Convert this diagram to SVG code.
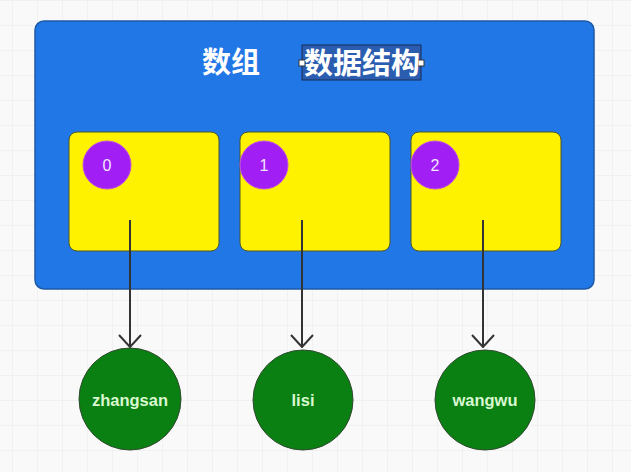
<svg xmlns="http://www.w3.org/2000/svg" width="631" height="472" viewBox="0 0 631 472">
<defs>
<pattern id="grid" x="12" y="0" width="25" height="25" patternUnits="userSpaceOnUse">
<path d="M0 0V25M0 0H25" fill="none" stroke="#e9e9e9" stroke-width="1"/>
</pattern>
<marker id="arr" viewBox="0 0 14 24" refX="13" refY="12" markerWidth="14" markerHeight="24" markerUnits="userSpaceOnUse" orient="auto">
<path d="M1 1L13 12L1 23" fill="none" stroke="#333" stroke-width="2"/>
</marker>
<style>
.box{fill:#fff200;stroke:#4a5530;stroke-width:1}
.idx{fill:#a11ff5;stroke:#c050e0;stroke-width:1}
.idxt{fill:#f3e6ff;font-family:"Liberation Sans",Arial,sans-serif;font-size:16px;text-anchor:middle;dominant-baseline:central}
.val{fill:#0a7f12;stroke:#2f4a2f;stroke-width:1}
.valt{fill:#d8f8d0;font-family:"Liberation Sans",Arial,sans-serif;font-size:16.5px;font-weight:bold;text-anchor:middle;dominant-baseline:central}
.title{fill:#ffffff;font-family:"Noto Sans CJK SC","Noto Sans CJK JP",sans-serif;font-size:29px;font-weight:bold;dominant-baseline:central}
.conn{stroke:#333;stroke-width:2;fill:none}
.handle{fill:#ffffff;stroke:#333;stroke-width:1}
</style>
</defs>
<rect width="631" height="472" fill="#f9f9f9"/>
<rect width="631" height="472" fill="url(#grid)"/>
<g id="array">
<rect x="35" y="21" width="559" height="268" rx="9" fill="#2277e6" stroke="#1e5aa6" stroke-width="1.5"/>
<text class="title" x="202" y="60">数组</text>
<rect x="302" y="45" width="119" height="35" fill="#2a5cb0" stroke="#1a2c55" stroke-width="1"/>
<rect class="handle" x="299" y="60" width="6" height="6"/>
<rect class="handle" x="418" y="60" width="6" height="6"/>
<text class="title" x="304" y="61">数据结构</text>
</g>
<g id="cell0">
<rect class="box" x="69" y="132" width="150" height="119" rx="8"/>
<circle class="idx" cx="107" cy="165" r="24"/>
<text class="idxt" x="107" y="165">0</text>
</g>
<g id="cell1">
<rect class="box" x="240" y="132" width="150" height="119" rx="8"/>
<circle class="idx" cx="264" cy="165" r="24"/>
<text class="idxt" x="264" y="165">1</text>
</g>
<g id="cell2">
<rect class="box" x="411" y="132" width="150" height="119" rx="8"/>
<circle class="idx" cx="435" cy="165" r="24"/>
<text class="idxt" x="435" y="165">2</text>
</g>
<g id="connectors">
<line class="conn" x1="130" y1="220" x2="130" y2="347" marker-end="url(#arr)"/>
<line class="conn" x1="302" y1="220" x2="302" y2="347" marker-end="url(#arr)"/>
<line class="conn" x1="483" y1="220" x2="483" y2="347" marker-end="url(#arr)"/>
</g>
<g id="zhangsan">
<circle class="val" cx="130" cy="399" r="51"/>
<text class="valt" x="130" y="400">zhangsan</text>
</g>
<g id="lisi">
<circle class="val" cx="303" cy="400" r="50"/>
<text class="valt" x="303" y="400">lisi</text>
</g>
<g id="wangwu">
<circle class="val" cx="485" cy="400" r="50"/>
<text class="valt" x="485" y="400">wangwu</text>
</g>
</svg>
